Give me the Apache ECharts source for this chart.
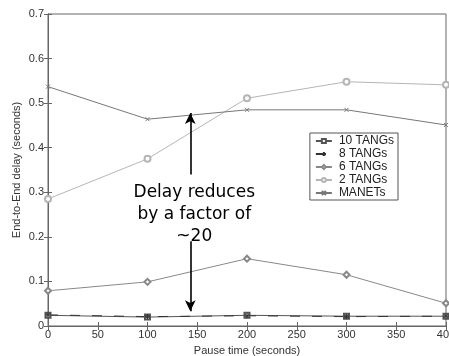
<!DOCTYPE html>
<html><head><meta charset="utf-8">
<script src="https://cdn.jsdelivr.net/npm/echarts@6/dist/echarts.min.js"></script>
<style>html,body{margin:0;padding:0;background:#fff}#c{width:449px;height:356px}</style>
</head><body><div id="c"></div>
<script>
var pauseTimes = [0, 100, 200, 300, 400];
var tang10 = [0.024, 0.020, 0.024, 0.022, 0.022];
var tang8 = [0.025, 0.021, 0.023, 0.021, 0.022];
var tang6 = [0.079, 0.099, 0.151, 0.115, 0.051];
var tang2 = [0.285, 0.375, 0.511, 0.548, 0.541];
var manets = [0.537, 0.464, 0.485, 0.485, 0.451];
var seriesNames = ['10 TANGs', '8 TANGs', '6 TANGs', '2 TANGs', 'MANETs'];
var xTicks = [0, 50, 100, 150, 200, 250, 300, 350, 400];
var yTicks = [0, 0.1, 0.2, 0.3, 0.4, 0.5, 0.6, 0.7];
var arrowX = 143;
var arrowUp = [0.34, 0.478];
var arrowDown = [0.19, 0.033];
var annotationLines = ['Delay reduces', 'by a factor of', '~20'];

var xPath = 'path://M0,0L10,10M10,0L0,10';
var starPath = 'path://M5,0L5,10M0,5L10,5M1.5,1.5L8.5,8.5M8.5,1.5L1.5,8.5';
function pairs(vals){ return pauseTimes.map(function(x,i){return [x, vals[i]];}); }
function mk(name, vals, color, symbol, size){
  return {name:name, type:'line', data:pairs(vals), symbol:symbol, symbolSize:size,
    lineStyle:{color:color, width:1}, itemStyle:{color:color, borderColor:color, borderWidth:1},
    emphasis:{disabled:true}, z:2};
}
var chart = echarts.init(document.getElementById('c'));
var labelStyle = {color:'#333', fontFamily:'Liberation Sans, Arial, sans-serif', fontSize:11};
chart.setOption({
  animation:false,
  grid:{left:48, right:3, top:14, bottom:30, show:true, borderColor:'#666', borderWidth:1, backgroundColor:'transparent',
    outerBoundsMode:'none', containLabel:false},
  legend:{
    right:51, top:133, orient:'vertical', itemGap:1, itemWidth:16, itemHeight:5,
    backgroundColor:'#fff', borderColor:'#555', borderWidth:1, padding:[2,4,1,5],
    textStyle:{color:'#222', fontFamily:'Liberation Sans, Arial, sans-serif', fontSize:12, padding:[0,0,0,2]},
    data:seriesNames
  },
  xAxis:[{type:'value', min:0, max:400, interval:50, name:'Pause time (seconds)', nameLocation:'middle', nameGap:19,
    nameTextStyle:labelStyle, axisLabel:Object.assign({margin:3}, labelStyle),
    axisLine:{lineStyle:{color:'#666'}}, axisTick:{inside:true, length:4, lineStyle:{color:'#666'}}, splitLine:{show:false}},
    {type:'value', min:0, max:400, interval:50, position:'top', axisLabel:{show:false},
    axisLine:{lineStyle:{color:'#666'}}, axisTick:{inside:true, length:4, lineStyle:{color:'#666'}}, splitLine:{show:false}}],
  yAxis:[{type:'value', min:0, max:0.7, interval:0.1, name:'End-to-End delay (seconds)', nameLocation:'middle', nameGap:26,
    nameMoveOverlap:false,
    nameTextStyle:labelStyle, axisLabel:Object.assign({margin:4, formatter:function(v){return String(+v.toFixed(1));}}, labelStyle),
    axisLine:{show:true, lineStyle:{color:'#666'}}, axisTick:{show:true, inside:true, length:4, lineStyle:{color:'#666'}}, splitLine:{show:false}},
    {type:'value', min:0, max:0.7, interval:0.1, position:'right', axisLabel:{show:false},
    axisLine:{show:true, lineStyle:{color:'#666'}}, axisTick:{show:true, inside:true, length:4, lineStyle:{color:'#666'}}, splitLine:{show:false}}],
  series:[
    mk(seriesNames[0], tang10, '#555', 'emptyRect', 5),
    Object.assign(mk(seriesNames[1], tang8, '#333', starPath, 5), {lineStyle:{color:'#333', width:1, type:[10,12]}}),
    mk(seriesNames[2], tang6, '#888', 'emptyDiamond', 6),
    mk(seriesNames[3], tang2, '#b5b5b5', 'emptyCircle', 6),
    mk(seriesNames[4], manets, '#777', xPath, 4),
    {type:'line', data:[], silent:true, z:5,
      markLine:{silent:true, symbol:['none','arrow'], symbolSize:[8,11], label:{show:false},
        lineStyle:{color:'#000', width:1.6, type:'solid'},
        data:[[{coord:[arrowX, arrowUp[0]]},{coord:[arrowX, arrowUp[1]]}],
              [{coord:[arrowX, arrowDown[0]]},{coord:[arrowX, arrowDown[1]]}]]}}
  ]
});
var p = chart.convertToPixel({xAxisIndex:0, yAxisIndex:0}, [arrowX, 0]);
chart.setOption({graphic:[{type:'text', x:p[0]+4, y:182, z:10,
  style:{text:annotationLines.join('\n'), fill:'#000', font:'17px "DejaVu Sans"', lineHeight:22, align:'center', verticalAlign:'top'}
  }]});
</script></body></html>
